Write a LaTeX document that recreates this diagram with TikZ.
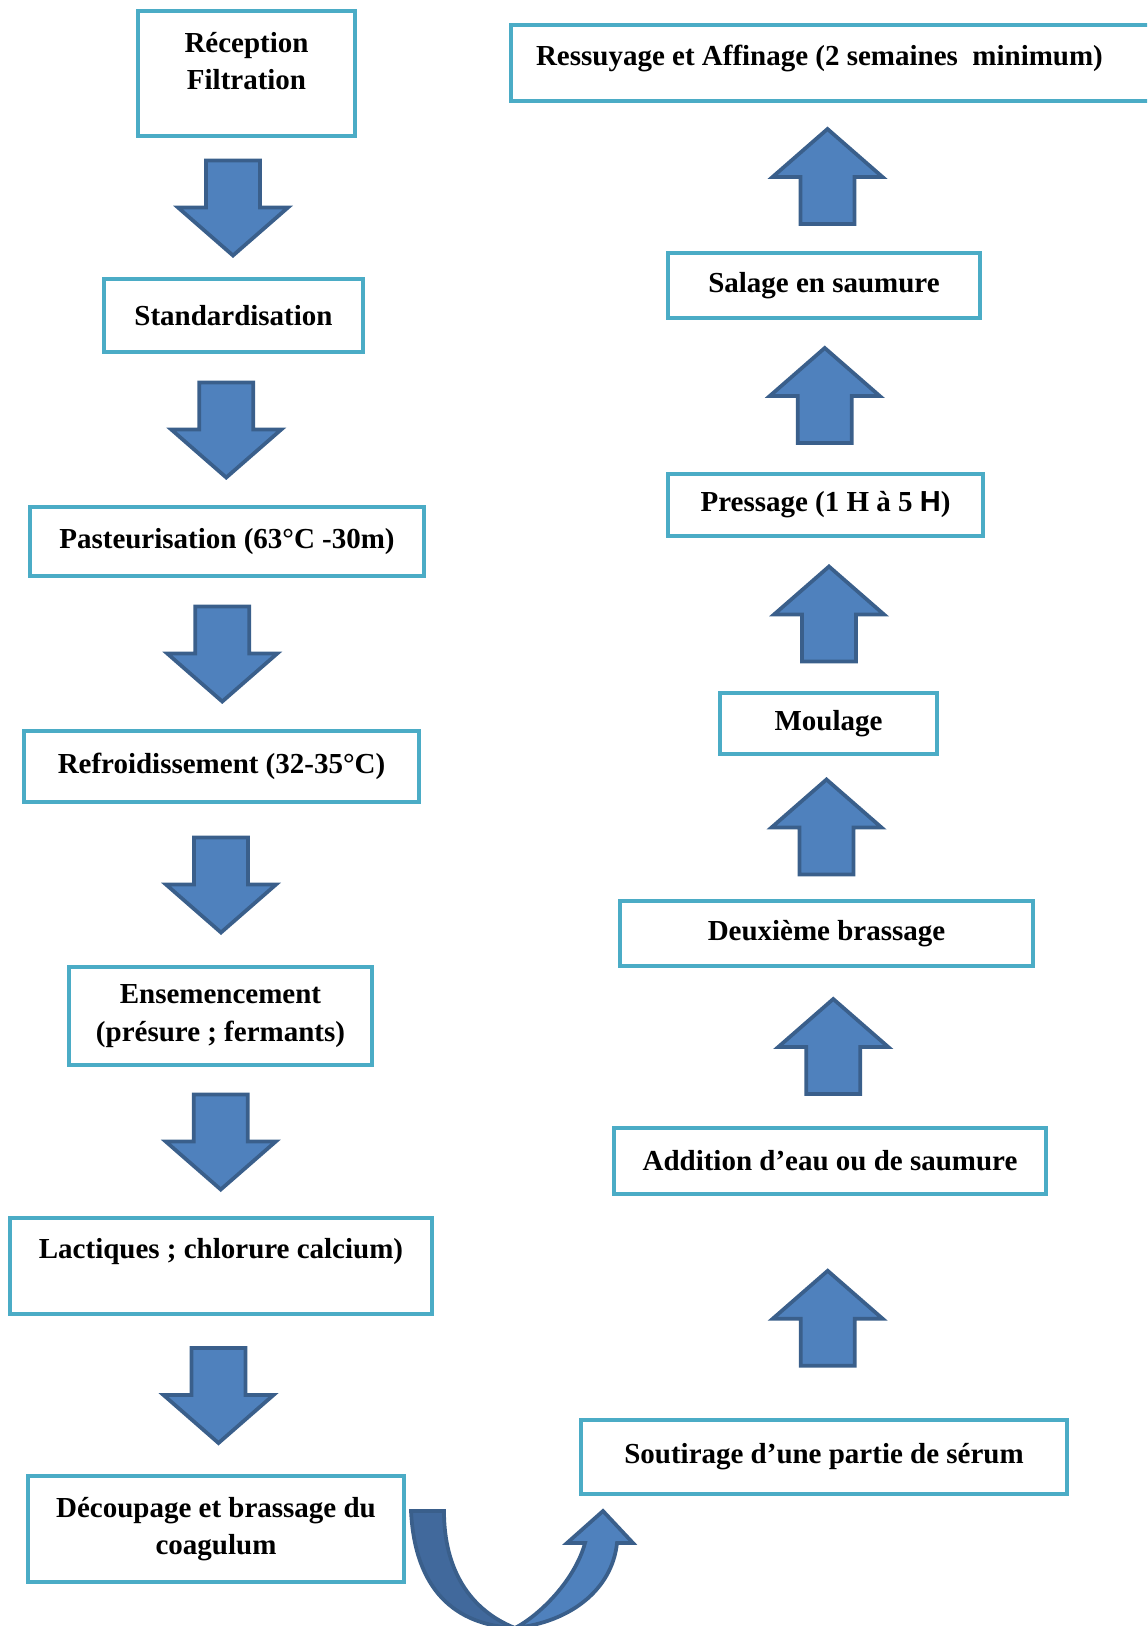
\documentclass[tikz,border=0pt]{standalone}
\usepackage{fontspec}
\setmainfont{Liberation Serif}
\newfontfamily\hsans{Liberation Sans}
\usetikzlibrary{calc}
\definecolor{Aqua}{HTML}{4BACC6}
\definecolor{Steel}{HTML}{4F81BD}
\definecolor{SteelDark}{HTML}{3A5F8B}
\definecolor{SteelDeep}{HTML}{41699C}

\begin{document}
\begin{tikzpicture}[x=0.02cm,y=-0.02cm,font={\fontsize{16.5}{21.5}\selectfont\bfseries},
    stepbox/.style={draw=Aqua,line width=0.08cm,fill=white,align=center,inner sep=0pt},
    blockarrow/.style={draw=SteelDark,fill=Steel,line width=0.075cm,line join=miter}]
  \useasboundingbox (0,0) rectangle (1147,1626);
  \clip (0,0) rectangle (1147,1626);
  % left column, going down
  \node[stepbox,minimum width=4.34cm,minimum height=2.5cm,text depth=0.5cm] (recep) at (246.5,73.5) {Réception\\Filtration};
  \node[stepbox,minimum width=5.18cm,minimum height=1.46cm] (stand) at (233.5,315.5) {Standardisation};
  \node[stepbox,minimum width=7.88cm,minimum height=1.38cm] (paste) at (227,541.5) {Pasteurisation (63°C -30m)};
  \node[stepbox,minimum width=7.9cm,minimum height=1.42cm] (refro) at (221.5,766.5) {Refroidissement (32-35°C)};
  \node[stepbox,minimum width=6.06cm,minimum height=1.96cm] (ensem) at (220.5,1016) {Ensemencement\\(présure ; fermants)};
  \node[stepbox,minimum width=8.44cm,minimum height=1.92cm,text depth=0.7cm] (lact) at (221,1266) {Lactiques ; chlorure calcium)};
  \node[stepbox,minimum width=7.52cm,minimum height=2.12cm] (decoup) at (216,1529) {Découpage et brassage du\\coagulum};
  % right column, going up
  \node[stepbox,minimum height=1.52cm,inner xsep=0.5cm,text depth=0.3cm] (affin) at (837,63) {\makebox[12.04cm][l]{Ressuyage et Affinage (2 semaines\ \ minimum)}};
  \node[stepbox,minimum width=6.24cm,minimum height=1.3cm] (salage) at (824,285.5) {Salage en saumure};
  \node[stepbox,minimum width=6.3cm,minimum height=1.24cm] (press) at (825.5,505) {Pressage (1 H à 5 {\hsans H})};
  \node[stepbox,minimum width=4.34cm,minimum height=1.22cm] (moul) at (828.5,723.5) {Moulage};
  \node[stepbox,minimum width=8.26cm,minimum height=1.3cm] (brass) at (826.5,933.5) {Deuxième brassage};
  \node[stepbox,minimum width=8.64cm,minimum height=1.32cm] (addit) at (830,1161) {Addition d’eau ou de saumure};
  \node[stepbox,minimum width=9.72cm,minimum height=1.48cm] (soutir) at (824,1457) {Soutirage d’une partie de sérum};
  % block arrows
  \foreach \a/\b/\f/\dx in {recep/stand/.5/-7,stand/paste/.5/-4,paste/refro/.5/-2,refro/ensem/.5/0,ensem/lact/.5/0,lact/decoup/.5/0}
    \draw[blockarrow,shift={($(\a.south)!\f!(\b.north)+(\dx,0)$)}] (-27,-47) -- (27,-47) -- (27,0) -- (55,0) -- (0,48) -- (-55,0) -- (-27,0) -- cycle;
  \foreach \a/\b/\f/\dx in {salage/affin/.5/-3,press/salage/.5/0,moul/press/.5/2,brass/moul/.5/-1,addit/brass/.5/5,soutir/addit/.447/1}
    \draw[blockarrow,shift={($(\a.north)!\f!(\b.south)+(\dx,0)$)}] (-27,47) -- (27,47) -- (27,0) -- (55,0) -- (0,-48) -- (-55,0) -- (-27,0) -- cycle;
  % curved arrow under the columns
  \draw[blockarrow,fill=SteelDeep] (411,1511) -- (444,1511) .. controls (444,1570) and (470,1610) .. (515,1628)
    .. controls (455,1625) and (415,1590) .. (411,1511) -- cycle;
  \draw[blockarrow] (515,1628) .. controls (570,1622) and (612,1590) .. (617,1543) -- (633,1543) -- (603,1511)
    -- (567,1543) -- (585,1543) .. controls (575,1580) and (540,1615) .. (515,1628) -- cycle;
\end{tikzpicture}
\end{document}
